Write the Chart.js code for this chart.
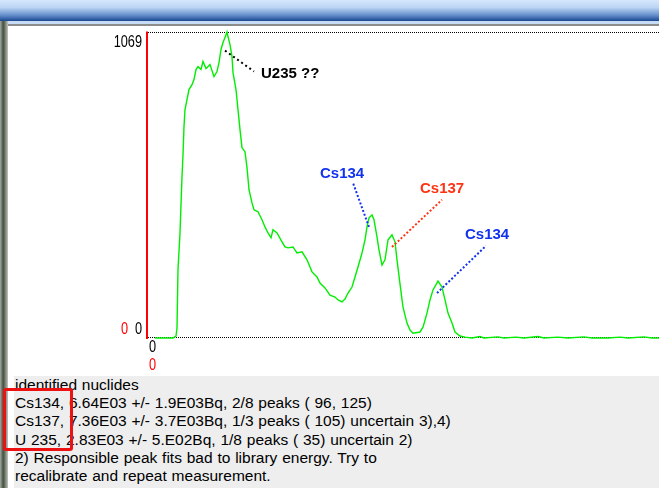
<!DOCTYPE html>
<html lang="en">
<head>
<meta charset="UTF-8">
<title>identified nuclides</title>
<script src="https://cdn.jsdelivr.net/npm/chart.js"></script>
<style>
  html, body { margin:0; padding:0; width:659px; height:488px; overflow:hidden; background:#fff; font-family:"Liberation Sans", Arial, sans-serif; }
  #titlebar { position:absolute; left:0; top:0; width:659px; height:21px; background:linear-gradient(#d6e8fd 0%, #bcd5f4 35%, #6690cc 72%, #1a4792 100%); }
  #sub { position:absolute; left:0; top:21px; width:659px; height:3px; background:#c6dcf4; }
  #subline { position:absolute; left:0; top:24px; width:659px; height:2px; background:#8c8c8c; }
  #frame { position:absolute; left:0; top:21px; width:8px; height:467px; background:linear-gradient(90deg,#a4aaa4,#44503f 40%,#7d877a 70%,#c4c4c4); }
  #plot { position:absolute; left:9px; top:27px; width:650px; height:349px; }
  #panel { position:absolute; left:14px; top:376px; width:645px; height:112px; background:#eeeeee; }
  #panel pre { margin:0; padding-left:1px; font:15.5px "Liberation Sans", Arial, sans-serif; word-spacing:0.5px; line-height:18.2px; color:#000; }
  #box { position:absolute; left:3px; top:388px; width:64px; height:57px; border:3px solid #ee1111; border-radius:3px; }
</style>
</head>
<body>
<div id="titlebar"></div>
<div id="sub"></div>
<div id="subline"></div>
<div id="frame"></div>
<div id="plot"><canvas id="spectrum"></canvas></div>
<div id="panel"><pre>identified nuclides
Cs134, 6.64E03 +/- 1.9E03Bq, 2/8 peaks ( 96, 125)
Cs137, 7.36E03 +/- 3.7E03Bq, 1/3 peaks ( 105) uncertain 3),4)
U 235, 2.83E03 +/- 5.E02Bq, 1/8 peaks ( 35) uncertain 2)
2) Responsible peak fits bad to library energy. Try to
recalibrate and repeat measurement.</pre></div>
<div id="box"></div>

<script>
// spectrum (channel, counts)
const channels = [3.5, 12.5, 14, 14.5, 15, 16, 16.5, 17, 17.5, 18, 18.5, 19.5, 20.5, 22, 23, 24, 25, 26.5, 27.5, 29,
  31, 33, 34.5, 35.5, 36.5, 37.5, 38.5, 39.5, 40, 41, 42, 42.5, 44, 45, 46, 47, 48.5, 49.5, 50.5, 52,
  53, 55, 57, 58.5, 60, 61.5, 62.5, 64.5, 67, 68.5, 70, 72.5, 74.5, 77, 79.5, 82, 84.5, 86, 88.5, 91,
  93.5, 95, 97, 98.5, 100, 102, 103.5, 105, 107, 108.5, 109.5, 110.5, 112, 113, 114.5, 115.5, 117, 118.5, 120, 122,
  123.5, 124.5, 126, 127.5, 129.5, 131, 132.5, 136, 137.5, 139.5, 141, 142.5, 145, 147, 148.5, 150, 152, 153.5, 156, 158.5,
  162, 166, 168, 175, 178, 184, 188, 195, 198, 205, 210, 218, 222, 230, 236, 240, 248, 252, 255.5];
const counts = [0, 0, 7, 35, 238, 367, 465, 563, 640, 738, 798, 833, 868, 885, 903, 938, 948, 938, 966, 941,
  955, 913, 931, 962, 1008, 1032, 1050, 1069, 1053, 1025, 983, 927, 868, 798, 728, 665, 651, 595, 518, 472,
  448, 441, 413, 388, 367, 350, 378, 367, 336, 318, 315, 318, 297, 301, 273, 231, 213, 192, 175, 150,
  143, 133, 126, 136, 157, 178, 213, 248, 297, 343, 388, 420, 430, 413, 353, 308, 255, 273, 343, 360,
  336, 273, 189, 108, 52, 28, 17, 21, 38, 87, 133, 168, 199, 178, 133, 87, 52, 21, 7, 3,
  0, 5, 0, 4, 0, 3, 0, 5, 0, 3, 0, 4, 0, 0, 3, 0, 4, 0, 0];

const yMax = 1069;
const xMax = 255.5;
const yTickLabels = ['0', '1069'];
const xTickLabel = '0';

// peak markers: label, colour, leader start (on peak), leader end, label anchor
const peakNames = ['U235 ??', 'Cs134', 'Cs137', 'Cs134'];
const peakColors = ['#000000', '#1133ee', '#ff3311', '#1133ee'];
const leaderFrom = [[38.5, 1004], [110.5, 388], [122, 318], [144.5, 157]];
const leaderTo = [[53, 931], [102.5, 542], [147, 483], [169, 322]];
const labelAt = [[56.5, 910], [86, 560], [136, 507], [158.5, 346]];

function narrowText(ctx, txt, px, py, align, color) {
  ctx.save();
  ctx.translate(px, py);
  ctx.scale(0.75, 1);
  ctx.font = '17px "Liberation Sans", Arial, sans-serif';
  ctx.textAlign = align;
  ctx.textBaseline = 'alphabetic';
  ctx.fillStyle = color;
  ctx.fillText(txt, 0, 0);
  ctx.restore();
}

const decor = {
  id: 'decor',
  beforeDatasetsDraw(chart) {
    const { ctx, chartArea: a, scales: { y } } = chart;
    const y0 = Math.round(y.getPixelForValue(0)) - 0.5;
    const yt = Math.round(y.getPixelForValue(yMax)) + 0.5;
    ctx.save();
    ctx.strokeStyle = '#000';
    ctx.lineWidth = 1;
    ctx.setLineDash([1, 1]);
    ctx.beginPath();
    ctx.moveTo(a.left, yt); ctx.lineTo(a.right, yt);
    ctx.moveTo(a.left, y0); ctx.lineTo(a.right, y0);
    ctx.stroke();
    ctx.restore();
  },
  afterDatasetsDraw(chart) {
    const { ctx, chartArea: a, scales: { x, y } } = chart;
    const y0 = y.getPixelForValue(0);
    const yt = y.getPixelForValue(yMax);
    ctx.save();
    // red y axis
    ctx.fillStyle = '#ff0000';
    ctx.fillRect(a.left - 2, yt - 0.5, 2, y0 - yt + 1.5);

    narrowText(ctx, yTickLabels[1], a.left - 6, yt + 15, 'right', '#000');
    narrowText(ctx, yTickLabels[0], a.left - 6, y0 - 4, 'right', '#000');
    narrowText(ctx, yTickLabels[0], a.left - 20, y0 - 4, 'right', '#ff0000');
    narrowText(ctx, xTickLabel, a.left + 1, y0 + 14, 'left', '#000');
    narrowText(ctx, xTickLabel, a.left + 1, y0 + 32, 'left', '#ff0000');

    // peak leaders and names
    peakNames.forEach((name, i) => {
      ctx.strokeStyle = peakColors[i];
      ctx.lineWidth = 2;
      ctx.setLineDash(i === 0 ? [2, 3] : [2, 2]);
      ctx.beginPath();
      ctx.moveTo(x.getPixelForValue(leaderFrom[i][0]), y.getPixelForValue(leaderFrom[i][1]));
      ctx.lineTo(x.getPixelForValue(leaderTo[i][0]), y.getPixelForValue(leaderTo[i][1]));
      ctx.stroke();
      ctx.setLineDash([]);
      ctx.font = 'bold 15px "Liberation Sans", Arial, sans-serif';
      ctx.fillStyle = peakColors[i];
      ctx.textAlign = 'left';
      ctx.textBaseline = 'alphabetic';
      ctx.fillText(name, x.getPixelForValue(labelAt[i][0]), y.getPixelForValue(labelAt[i][1]));
    });
    ctx.restore();
  }
};

new Chart(document.getElementById('spectrum'), {
  type: 'line',
  data: {
    datasets: [{
      data: channels.map((c, i) => ({ x: c, y: counts[i] })),
      borderColor: '#00ee00',
      borderWidth: 1.4,
      pointRadius: 0,
      tension: 0,
      fill: false,
      clip: 4
    }]
  },
  options: {
    responsive: true,
    maintainAspectRatio: false,
    animation: false,
    layout: { padding: { left: 139, right: 0, top: 5, bottom: 38 } },
    plugins: { legend: { display: false }, tooltip: { enabled: false } },
    scales: {
      x: { type: 'linear', min: 0, max: xMax, display: false },
      y: { min: 0, max: yMax, display: false }
    }
  },
  plugins: [decor]
});
</script>
</body>
</html>
